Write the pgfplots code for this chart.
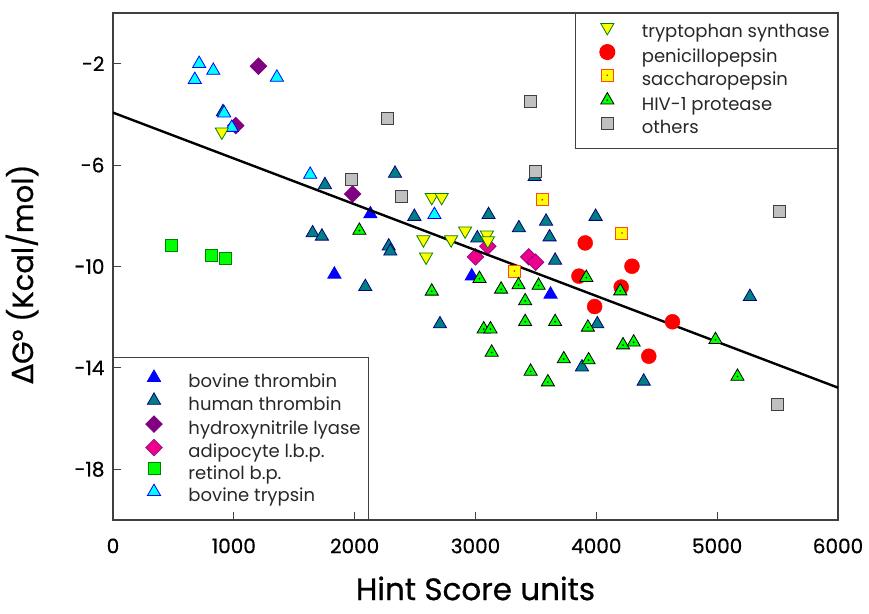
\documentclass[border=0pt]{standalone}
\usepackage{fontspec}
\setmainfont{Poppins}
\newfontfamily\pmed{Poppins}[FakeBold=0.7]
\newfontfamily\grk{DejaVu Sans}[FakeBold=0.7]
\usepackage{pgfplots}
\pgfplotsset{compat=1.18}

\definecolor{tealc}{RGB}{0,128,128}
\definecolor{navyc}{RGB}{0,0,128}
\definecolor{purplec}{RGB}{128,0,128}
\definecolor{limec}{RGB}{0,255,0}
\definecolor{dgreen}{RGB}{0,128,0}
\definecolor{cyanc}{RGB}{0,255,255}
\definecolor{yellowc}{RGB}{255,255,0}
\definecolor{sacedge}{RGB}{255,70,30}
\definecolor{grayc}{RGB}{192,192,192}
\definecolor{txt}{RGB}{40,40,40}

% marks with a dot in the middle
\pgfdeclareplotmark{tridot}{%
  \pgfuseplotmark{triangle*}%
  \pgfscope\pgfsetfillcolor{black}%
  \pgfpathcircle{\pgfpointorigin}{0.9pt}%
  \pgfusepathqfill\endpgfscope}
\pgfdeclareplotmark{sqdot}{%
  \pgfuseplotmark{square*}%
  \pgfscope\pgfsetfillcolor{red}%
  \pgfpathcircle{\pgfpointorigin}{0.9pt}%
  \pgfusepathqfill\endpgfscope}

\pgfplotsset{
  myax/.style={
    width=725pt, height=507pt, scale only axis,
    xmin=0, xmax=6000, ymin=-20, ymax=0,
    clip=false,
  },
  leg/.style={
    legend cell align=left,
    legend style={draw=black!75, line width=1pt, fill=white,
      font=\fontsize{18}{18}\selectfont\color{txt},
      inner xsep=8pt,
      nodes={inner sep=0pt, text height=13pt, text depth=4.5pt}},
  },
}

\begin{document}
\begin{tikzpicture}
% lower-left legend group
\begin{axis}[myax, hide axis, leg,
  legend style={at={(0,0)}, anchor=south west, inner ysep=13pt, row sep=0.5pt},
  legend image code/.code={\path (0pt,0pt) (66pt,0pt); \draw[#1,only marks] plot coordinates {(32pt,6pt)};},
]
\addplot[only marks, mark=triangle*, mark size=7.6pt, mark options={fill=blue, draw=blue, line width=0.8pt}]
  coordinates {(2130,-7.93) (1832,-10.31) (2969,-10.38) (3621,-11.10)};
\addlegendentry{bovine thrombin}
\addplot[only marks, mark=triangle*, mark size=7.6pt, mark options={fill=tealc, draw=navyc, line width=0.8pt}]
  coordinates {(910,-3.90) (1754,-6.78) (1652,-8.68) (1729,-8.81) (2088,-10.80)
  (2282,-9.20) (2295,-9.40) (2334,-6.33) (2494,-8.03) (3108,-7.96) (3359,-8.48)
  (3584,-8.22) (3994,-8.03) (3613,-8.84) (3015,-8.88) (3489,-6.46) (3659,-9.76)
  (2706,-12.27) (3881,-13.97) (4008,-12.27) (4392,-14.53) (5271,-11.19)};
\addlegendentry{human thrombin}
\addplot[only marks, mark=square*, mark size=5.9pt, mark options={rotate=45, fill=purplec, draw=purplec, line width=0.6pt}]
  coordinates {(1204,-2.10) (1016,-4.44) (1983,-7.14)};
\addlegendentry{hydroxynitrile lyase}
\addplot[only marks, mark=square*, mark size=5.9pt, mark options={rotate=45, fill=magenta, draw=purplec, line width=0.6pt}]
  coordinates {(3102,-9.20) (3000,-9.62) (3441,-9.62) (3497,-9.83)};
\addlegendentry{adipocyte l.b.p.}
\addplot[only marks, mark=square*, mark size=6pt, mark options={fill=limec, draw=dgreen, line width=0.8pt}]
  coordinates {(486,-9.18) (815,-9.56) (928,-9.70)};
\addlegendentry{retinol b.p.}
\addplot[only marks, mark=triangle*, mark size=7.6pt, mark options={fill=cyanc, draw=blue, line width=0.8pt}]
  coordinates {(713,-2.00) (830,-2.27) (677,-2.63) (1356,-2.54) (920,-3.95)
  (983,-4.52) (1632,-6.37) (2660,-7.96)};
\addlegendentry{bovine trypsin}
\end{axis}

% main axis with upper-right legend group
\begin{axis}[myax, leg, name=ax,
  legend style={at={(1,1)}, anchor=north east, inner ysep=10pt, row sep=2.5pt},
  legend image code/.code={\path (0pt,0pt) (57pt,0pt); \draw[#1,only marks] plot coordinates {(23pt,6pt)};},
  axis line style={draw=black!75, line width=1.2pt},
  tick align=inside, xtick pos=bottom, ytick pos=left,
  major tick length=8pt, tick style={draw=black!75, line width=1pt},
  xtick={0,1000,2000,3000,4000,5000,6000},
  xticklabels={0,1000,2000,3000,4000,5000,6000},
  ytick={-2,-6,-10,-14,-18},
  yticklabels={-2,-6,-10,-14,-18},
  ticklabel style={font=\pmed\fontsize{20}{20}\selectfont},
  xticklabel style={yshift=-15pt},
  yticklabel style={xshift=-5pt},
  xlabel={Hint Score units},
  xlabel style={font=\pmed\fontsize{31}{31}\selectfont, at={(axis description cs:0.5,0)}, anchor=north, yshift=-53pt},
  ylabel={{\grk Δ}G° (Kcal/mol)},
  ylabel style={font=\pmed\fontsize{29}{29}\selectfont, at={(axis description cs:-0.098,0.485)}, anchor=south},
]
\addplot[only marks, mark=triangle*, mark size=7.6pt, mark options={rotate=180, fill=yellowc, draw=dgreen, line width=0.8pt}]
  coordinates {(901,-4.69) (2638,-7.27) (2720,-7.27) (2914,-8.59) (2569,-8.94)
  (2798,-8.94) (3094,-8.75) (3102,-8.98) (2591,-9.62)};
\addlegendentry{tryptophan synthase}
\addplot[only marks, mark=*, mark size=7.5pt, mark options={fill=red, draw=red}]
  coordinates {(3908,-9.07) (3856,-10.38) (3986,-11.58) (4295,-9.99) (4206,-10.81)
  (4630,-12.18) (4434,-13.54)};
\addlegendentry{penicillopepsin}
\addplot[only marks, mark=sqdot, mark size=6pt, mark options={fill=yellowc, draw=sacedge, line width=1pt}]
  coordinates {(3552,-7.37) (3323,-10.18) (4212,-8.68)};
\addlegendentry{saccharopepsin}
\addplot[only marks, mark=tridot, mark size=7.6pt, mark options={fill=limec, draw=black, line width=0.8pt}]
  coordinates {(2039,-8.58) (3917,-10.44) (3033,-10.48) (3356,-10.73) (3212,-10.90)
  (3522,-10.75) (2638,-10.98) (3411,-11.36) (3068,-12.47) (3124,-12.47) (3411,-12.18)
  (3659,-12.18) (3930,-12.40) (3134,-13.39) (3731,-13.65) (3936,-13.69) (3456,-14.14)
  (3599,-14.56) (4198,-10.97) (4986,-12.89) (4221,-13.10) (4309,-12.99) (5168,-14.34)};
\addlegendentry{HIV-1 protease}
\addplot[only marks, mark=square*, mark size=6pt, mark options={fill=grayc, draw=black!75, line width=0.8pt}]
  coordinates {(2268,-4.17) (1975,-6.55) (3456,-3.49) (3494,-6.24) (2389,-7.22)
  (5519,-7.83) (5500,-15.44)};
\addlegendentry{others}
% regression line
\addplot[black, line width=2.4pt, forget plot] coordinates {(0,-3.93) (6000,-14.78)};
\end{axis}
\path ([xshift=-113pt,yshift=-94pt]ax.south west) rectangle ([xshift=31pt,yshift=13pt]ax.north east);
\end{tikzpicture}
\end{document}
